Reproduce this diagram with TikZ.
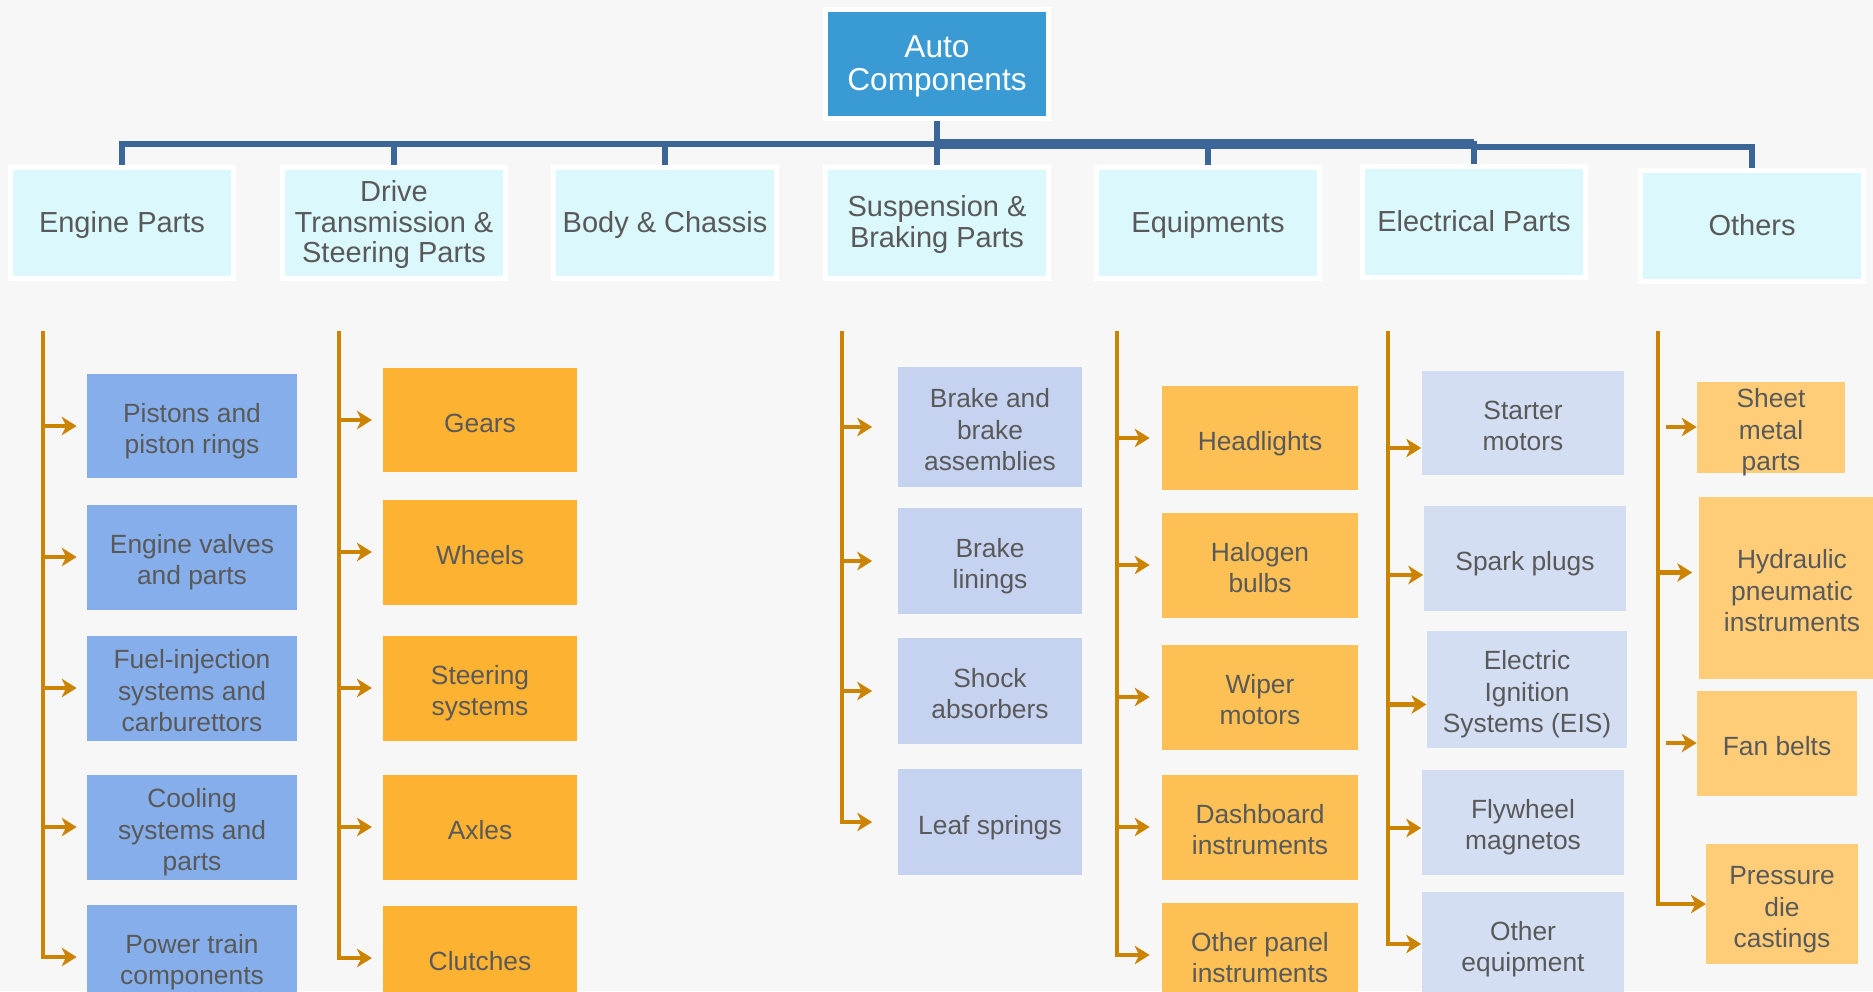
\documentclass[tikz,border=0pt]{standalone}
\usepackage{fontspec}
\setmainfont{Liberation Sans}
\usetikzlibrary{arrows.meta}

\definecolor{fundo}{HTML}{F7F7F7}
\definecolor{raizazul}{HTML}{3A9AD4}
\definecolor{catciano}{HTML}{DBF8FC}
\definecolor{barraazul}{HTML}{3C6698}
\definecolor{troncolar}{HTML}{CC8400}
\definecolor{textocinza}{HTML}{595959}
\definecolor{motorazul}{HTML}{86AEEA}
\definecolor{transmlar}{HTML}{FDB232}
\definecolor{susplilas}{HTML}{C5D3F0}
\definecolor{equiplar}{HTML}{FCC055}
\definecolor{eletlilas}{HTML}{D3DEF2}
\definecolor{outroslar}{HTML}{FFCD78}

% linha com altura fixa, como a caixa de texto do slide
\newcommand{\topo}[1]{\rule{0pt}{#1}}
\newcommand{\fundolinha}[1]{\rule[-#1]{0pt}{#1}}

\begin{document}
\begin{tikzpicture}[x=0.02cm, y=-0.02cm]
  \tikzstyle{rootbox}=[fill=raizazul, draw=white, line width=0.1cm, text=white, align=flush center,
    minimum width=4.47cm, minimum height=2.19cm, inner sep=0pt, text width=4.2cm,
    font=\fontsize{18}{19}\selectfont,
    execute at begin node={\topo{15.3pt}}, execute at end node={\fundolinha{3.8pt}}]
  \tikzstyle{cat}=[fill=catciano, draw=white, line width=0.1cm, text=textocinza, align=flush center,
    minimum width=4.46cm, minimum height=2.22cm, inner sep=0pt, text width=4.3cm,
    font=\fontsize{16.5}{17.5}\selectfont,
    execute at begin node={\topo{13.8pt}}, execute at end node={\fundolinha{3.5pt}}]
  \tikzstyle{part}=[text=textocinza, align=flush center, inner sep=0pt, minimum height=2.1cm,
    text width=3.5cm, font=\fontsize{15}{18}\selectfont,
    execute at begin node={\topo{17pt}}, execute at end node={\fundolinha{3.2pt}}]
  \tikzstyle{bar}=[draw=barraazul, line width=0.12cm]
  \tikzstyle{arr}=[draw=troncolar, line width=0.09cm, -{Stealth[length=8.5pt, width=10.5pt, inset=2.5pt]}]

  \useasboundingbox (0,0) rectangle (1873,991);
  \fill[fundo] (0,0) rectangle (1873,991);

  % raiz e categorias do primeiro nivel
  \node[rootbox] (root) at (937,64) {Auto\\Components};
  \node[cat] (eng)   at (122,223)  {Engine Parts};
  \node[cat] (drive) at (394,223)  {Drive\\Transmission \&\\Steering Parts};
  \node[cat] (body)  at (665,223)  {Body \& Chassis};
  \node[cat] (susp)  at (937,223)  {Suspension \&\\Braking Parts};
  \node[cat] (equip) at (1208,223) {Equipments};
  \node[cat] (elec)  at (1474,222) {Electrical Parts};
  \node[cat] (oth)   at (1752,226) {Others};

  % barramento azul
  \coordinate (bus) at (937,144);
  \coordinate (bus2) at (1474,146.5);
  \draw[bar] (root.south) -- (susp.north);
  \foreach \c in {eng,drive,body,equip,elec}
    \draw[bar] (bus) -| (\c.north);
  \draw[bar, line width=0.19cm] (bus) -- (bus -| elec.north);
  \draw[bar] (elec.north |- bus2) -| (oth.north);

  % coluna 1: motor
  \tikzstyle{c1}=[part, fill=motorazul, minimum width=4.2cm]
  \node[c1] (pist)  at (192,426) {Pistons and\\piston rings};
  \node[c1] (valve) at (192,557) {Engine valves\\and parts};
  \node[c1] (fuel)  at (192,688) {Fuel-injection\\systems and\\carburettors};
  \node[c1] (cool)  at (192,827) {Cooling\\systems and\\parts};
  \node[c1] (power) at (192,957) {Power train\\components};
  \coordinate (t1) at (43,331);
  \foreach \b in {pist,valve,fuel,cool}
    \draw[arr, shorten >=0.2cm] (t1 |- \b.west) -- (\b.west);
  \draw[arr, shorten >=0.2cm] (t1) |- (power.west);

  % coluna 2: transmissao
  \tikzstyle{c2}=[part, fill=transmlar, minimum width=3.87cm]
  \node[c2] (gear)   at (480,420) {Gears};
  \node[c2] (wheel)  at (480,552) {Wheels};
  \node[c2] (steer)  at (480,688) {Steering\\systems};
  \node[c2] (axle)   at (480,827) {Axles};
  \node[c2] (clutch) at (480,958) {Clutches};
  \coordinate (t2) at (339,331);
  \foreach \b in {gear,wheel,steer,axle}
    \draw[arr, shorten >=0.22cm] (t2 |- \b.west) -- (\b.west);
  \draw[arr, shorten >=0.22cm] (t2) |- (clutch.west);

  % coluna 4: suspensao e freios
  \tikzstyle{c4}=[part, fill=susplilas, minimum width=3.7cm, minimum height=2.12cm]
  \node[c4, minimum height=2.39cm] (brake) at (990,427) {Brake and\\brake\\assemblies};
  \node[c4] (lining) at (990,561) {Brake\\linings};
  \node[c4] (shock)  at (990,691) {Shock\\absorbers};
  \node[c4] (leaf)   at (990,822) {Leaf springs};
  \coordinate (t4) at (842,331);
  \foreach \b in {brake,lining,shock}
    \draw[arr, shorten >=0.5cm] (t4 |- \b.west) -- (\b.west);
  \draw[arr, shorten >=0.5cm] (t4) |- (leaf.west);

  % coluna 5: equipamentos
  \tikzstyle{c5}=[part, fill=equiplar, minimum width=3.92cm]
  \node[c5] (head)  at (1260,438) {Headlights};
  \node[c5] (halo)  at (1260,565) {Halogen\\bulbs};
  \node[c5] (wiper) at (1260,697) {Wiper\\motors};
  \node[c5] (dash)  at (1260,827) {Dashboard\\instruments};
  \node[c5] (panel) at (1260,955) {Other panel\\instruments};
  \coordinate (t5) at (1117,331);
  \foreach \b in {head,halo,wiper,dash}
    \draw[arr, shorten >=0.24cm] (t5 |- \b.west) -- (\b.west);
  \draw[arr, shorten >=0.24cm] (t5) |- (panel.west);

  % coluna 6: eletrica
  \tikzstyle{c6}=[part, fill=eletlilas, minimum width=4.06cm]
  \node[c6] (start)   at (1523,423) {Starter\\motors};
  \node[c6] (spark)   at (1525,558) {Spark plugs};
  \node[c6, minimum width=4.01cm, minimum height=2.34cm] (eis) at (1527,689) {Electric\\Ignition\\Systems (EIS)};
  \node[c6] (fly)     at (1523,822) {Flywheel\\magnetos};
  \node[c6] (othereq) at (1523,944) {Other\\equipment};
  \coordinate (t6) at (1388,331);
  \foreach \b/\s in {start/-0.5, spark/-0.34, eis/-0.31, fly/-0.12} {
    \coordinate (\b-in) at ([yshift=\s cm]\b.west);
    \draw[arr] (t6 |- \b-in) -- (\b-in);
  }
  \draw[arr] (t6) |- (othereq.west);

  % coluna 7: outros (o texto de sheet passa da caixa)
  \tikzstyle{c7}=[part, fill=outroslar, text width=2.9cm]
  \node[c7, minimum width=2.96cm, minimum height=1.82cm, inner ysep=-2.3pt] (sheet) at (1771,427) {Sheet\\metal\\parts};
  \node[c7, minimum width=3.74cm, minimum height=3.63cm] (hydro) at (1792,588) {Hydraulic\\pneumatic\\instruments};
  \node[c7, minimum width=3.2cm] (fan) at (1777,743) {Fan belts};
  \node[c7, minimum width=3.03cm, minimum height=2.39cm] (press) at (1782,904) {Pressure\\die\\castings};
  \coordinate (t7) at (1658,331);
  \coordinate (t7s) at (1666,331);
  \coordinate (hydro-in) at ([yshift=0.31cm]hydro.west);
  \draw[arr] (t7s |- sheet.west) -- (sheet.west);
  \draw[arr, shorten >=0.12cm] (t7 |- hydro-in) -- (hydro-in);
  \draw[arr] (t7s |- fan.west) -- (fan.west);
  \draw[arr] (t7) |- (press.west);
\end{tikzpicture}
\end{document}
